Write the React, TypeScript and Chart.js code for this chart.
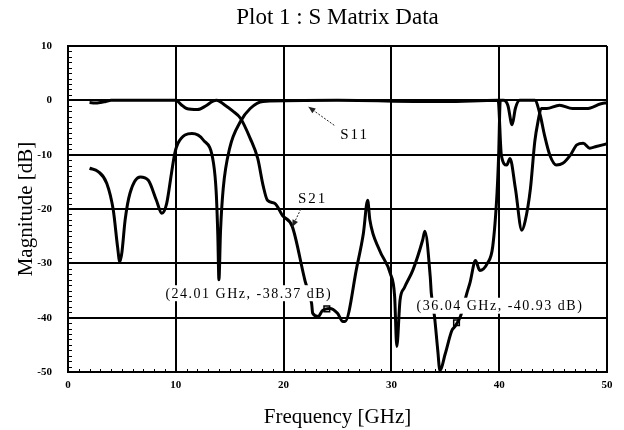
import React, { useEffect, useRef } from 'react';
import { Chart, registerables } from 'chart.js';

Chart.register(...registerables);

const SERIF = "'Liberation Serif', 'Times New Roman', serif";

// S21 curve (frequency in GHz, magnitude in dB)
const s21Freq = [2, 2.5, 3, 3.5, 4, 6, 8, 10, 10.5, 11, 12, 12.8, 13.4, 13.8, 14.5, 15.3, 16.0, 16.9, 17.6, 18.1, 18.5, 19.2, 19.9, 20.8, 22.0, 22.6, 22.7, 23.2, 23.6, 24.3, 25.0, 25.5, 25.7, 26.8, 27.4, 27.8, 28.0, 28.9, 29.9, 30.3, 30.5, 30.8, 31.2, 32.0, 32.9, 33.1, 33.6, 33.7, 34.0, 34.3, 34.5, 35.0, 35.6, 35.9, 36.4, 37.0, 37.3, 37.8, 38.2, 38.9, 39.4, 39.8, 39.95, 40.1, 40.4, 40.8, 41.2, 41.5, 41.9, 43.3, 43.8, 44.2, 44.7, 45.3, 45.9, 46.6, 47.2, 47.8, 48.4, 49.0, 49.6, 50];
const s21Mag = [-0.4, -0.5, -0.4, -0.2, 0, 0, 0, 0, -0.8, -1.5, -1.7, -1.0, -0.2, 0, -0.8, -2.0, -3.3, -7.0, -10.7, -15.7, -18.4, -19.0, -21.2, -23.2, -33.3, -37.4, -39.2, -39.8, -38.7, -38.3, -39.2, -40.7, -40.7, -30.6, -24.5, -18.4, -22.0, -27.6, -31.9, -36.1, -45.3, -36.8, -34.5, -31.2, -25.7, -24.1, -32.4, -35.5, -39.8, -46.0, -49.7, -46.6, -42.4, -41.6, -39.8, -35.5, -33.5, -29.5, -31.3, -30.0, -26.9, -17.0, -10.0, 0, 0, -0.9, -4.5, -1.5, 0, 0, -2.7, -6.4, -10.1, -11.9, -11.6, -10.1, -8.2, -7.9, -8.8, -8.5, -8.2, -8.0];

// S11 curve
const s11Freq = [2.0, 2.8, 3.6, 4.2, 4.6, 4.8, 5.0, 5.3, 5.75, 6.7, 7.45, 8.2, 8.7, 9.15, 9.6, 9.9, 10.2, 11.5, 12.55, 13.5, 13.75, 13.9, 14.0, 14.15, 14.4, 15.0, 16.0, 16.9, 18.1, 25.0, 34.0, 35.0, 39.9, 40.2, 40.7, 41.0, 41.5, 42.1, 42.4, 42.9, 43.3, 43.6, 43.9, 44.4, 45.6, 46.8, 48.1, 49.8, 50];
const s11Mag = [-12.5, -13.1, -15.3, -20.2, -27.0, -29.7, -28.0, -22.0, -17.1, -14.1, -14.7, -18.4, -20.8, -19.0, -13.4, -9.8, -7.9, -6.1, -7.3, -11.6, -17.0, -25.0, -33.0, -24.0, -16.2, -8.8, -3.9, -1.5, -0.2, 0, -0.2, -0.2, 0, -10.1, -11.9, -10.7, -16.2, -23.9, -22.3, -16.2, -7.6, -3.9, -1.5, -1.5, -0.9, -1.5, -1.5, -0.5, -0.5];

// marker readouts
const markerFreq = [24.01, 36.04];
const markerMag = [-38.37, -40.93];
const markerText = ['(24.01 GHz, -38.37 dB)', '(36.04 GHz, -40.93 dB)'];

const seriesNames = ['S11', 'S21'];

const minorTicksPlugin = {
  id: 'minorTicks',
  beforeDatasetsDraw(chart: any) {
    const { ctx, chartArea, scales } = chart;
    const x = scales.x;
    const y = scales.y;
    ctx.save();
    ctx.strokeStyle = '#000';
    ctx.lineWidth = 1;
    ctx.beginPath();
    for (let v = y.min; v <= y.max; v += 1) {
      const py = Math.round(y.getPixelForValue(v)) + 0.5;
      ctx.moveTo(chartArea.left, py);
      ctx.lineTo(chartArea.left + 4, py);
    }
    for (let v = x.min; v <= x.max; v += 1) {
      const px = Math.round(x.getPixelForValue(v)) + 0.5;
      ctx.moveTo(px, chartArea.bottom);
      ctx.lineTo(px, chartArea.bottom - 3);
    }
    ctx.stroke();
    ctx.restore();
  },
};

function arrow(ctx: CanvasRenderingContext2D, x1: number, y1: number, x2: number, y2: number) {
  ctx.save();
  ctx.strokeStyle = '#222';
  ctx.fillStyle = '#222';
  ctx.lineWidth = 1;
  ctx.setLineDash([2, 1.5]);
  ctx.beginPath();
  ctx.moveTo(x1, y1);
  ctx.lineTo(x2, y2);
  ctx.stroke();
  ctx.setLineDash([]);
  const a = Math.atan2(y2 - y1, x2 - x1);
  const L = 7;
  const W = 3;
  ctx.beginPath();
  ctx.moveTo(x2, y2);
  ctx.lineTo(x2 - L * Math.cos(a) + W * Math.sin(a), y2 - L * Math.sin(a) - W * Math.cos(a));
  ctx.lineTo(x2 - L * Math.cos(a) - W * Math.sin(a), y2 - L * Math.sin(a) + W * Math.cos(a));
  ctx.closePath();
  ctx.fill();
  ctx.restore();
}

function spacedText(ctx: any, t: string, cx: number, cy: number, spacing: number) {
  if ('letterSpacing' in ctx) {
    ctx.letterSpacing = `${spacing}px`;
    ctx.fillText(t, cx + spacing / 2, cy);
    ctx.letterSpacing = '0px';
  } else {
    ctx.fillText(t, cx, cy);
  }
}

const annotationPlugin = {
  id: 'annotations',
  afterDatasetsDraw(chart: any) {
    const { ctx, scales } = chart;
    const x = scales.x;
    const y = scales.y;
    ctx.save();
    // readout boxes
    const boxAnchors = [
      [16.7, -35.5],
      [40.0, -37.8],
    ];
    ctx.font = `14px ${SERIF}`;
    ctx.textAlign = 'center';
    ctx.textBaseline = 'middle';
    markerText.forEach((t, i) => {
      const cx = x.getPixelForValue(boxAnchors[i][0]);
      const cy = y.getPixelForValue(boxAnchors[i][1]);
      const w = ctx.measureText(t).width + 22 * 1.5 + 4;
      ctx.fillStyle = '#fff';
      ctx.fillRect(cx - w / 2, cy - 8, w, 16);
      ctx.fillStyle = '#000';
      spacedText(ctx, t, cx, cy + 1, 1.5);
    });
    // series labels
    ctx.font = `15px ${SERIF}`;
    ctx.fillStyle = '#000';
    spacedText(ctx, seriesNames[0], x.getPixelForValue(26.5), y.getPixelForValue(-6.3), 2);
    spacedText(ctx, seriesNames[1], x.getPixelForValue(22.6), y.getPixelForValue(-18.1), 2);
    arrow(ctx, x.getPixelForValue(24.7), y.getPixelForValue(-4.6), x.getPixelForValue(22.3), y.getPixelForValue(-1.2));
    arrow(ctx, x.getPixelForValue(21.6), y.getPixelForValue(-20.0), x.getPixelForValue(20.8), y.getPixelForValue(-23.3));
    ctx.restore();
  },
};

export default function App() {
  const ref = useRef<HTMLCanvasElement | null>(null);

  useEffect(() => {
    if (!ref.current) return;
    const tickFont = { family: SERIF, size: 11, weight: 'bold' as const };
    const chart = new Chart(ref.current, {
      type: 'line',
      data: {
        datasets: [
          {
            label: seriesNames[0],
            data: s11Freq.map((f, i) => ({ x: f, y: s11Mag[i] })),
            borderColor: '#000',
            borderWidth: 3,
            pointRadius: 0,
            cubicInterpolationMode: 'monotone',
            fill: false,
          },
          {
            label: seriesNames[1],
            data: s21Freq.map((f, i) => ({ x: f, y: s21Mag[i] })),
            borderColor: '#000',
            borderWidth: 3,
            pointRadius: 0,
            cubicInterpolationMode: 'monotone',
            fill: false,
          },
          {
            label: 'markers',
            data: markerFreq.map((f, i) => ({ x: f, y: markerMag[i] })),
            showLine: false,
            pointStyle: 'rect',
            pointRadius: 4,
            pointBackgroundColor: '#fff',
            pointBorderColor: '#000',
            pointBorderWidth: 1.5,
          },
        ],
      },
      options: {
        responsive: false,
        animation: false,
        devicePixelRatio: 1,
        layout: { padding: { left: 0, right: 17, top: 0, bottom: 0 } },
        plugins: {
          legend: { display: false },
          tooltip: { enabled: false },
          title: {
            display: true,
            fullSize: false,
            text: 'Plot 1 : S Matrix Data',
            color: '#000',
            font: { family: SERIF, size: 23, weight: 'normal', lineHeight: 1 },
            padding: { top: 6, bottom: 17 },
          },
        },
        scales: {
          x: {
            type: 'linear',
            min: 0,
            max: 50,
            afterFit: (s: any) => {
              s.height = 58;
            },
            ticks: { stepSize: 10, color: '#000', padding: 7, font: tickFont, maxRotation: 0 },
            grid: { color: '#000', lineWidth: 2, drawTicks: false },
            border: { color: '#000', width: 2 },
            title: {
              display: true,
              text: 'Frequency [GHz]',
              color: '#000',
              font: { family: SERIF, size: 21, lineHeight: 1 },
              padding: { top: 0, bottom: 2 },
            },
          },
          y: {
            type: 'linear',
            min: -50,
            max: 10,
            afterFit: (s: any) => {
              s.width = 68;
            },
            ticks: { stepSize: 10, color: '#000', padding: 16, font: tickFont },
            grid: { color: '#000', lineWidth: 2, drawTicks: false },
            border: { color: '#000', width: 2 },
            title: {
              display: true,
              text: 'Magnitude [dB]',
              color: '#000',
              font: { family: SERIF, size: 21, lineHeight: 1 },
              padding: { top: 16, bottom: 0 },
            },
          },
        },
      },
      plugins: [minorTicksPlugin, annotationPlugin],
    } as any);
    return () => chart.destroy();
  }, []);

  return (
    <div style={{ position: 'fixed', left: 0, top: 0, width: 624, height: 430, background: '#fff' }}>
      <canvas ref={ref} width={624} height={430} style={{ display: 'block' }} />
    </div>
  );
}
